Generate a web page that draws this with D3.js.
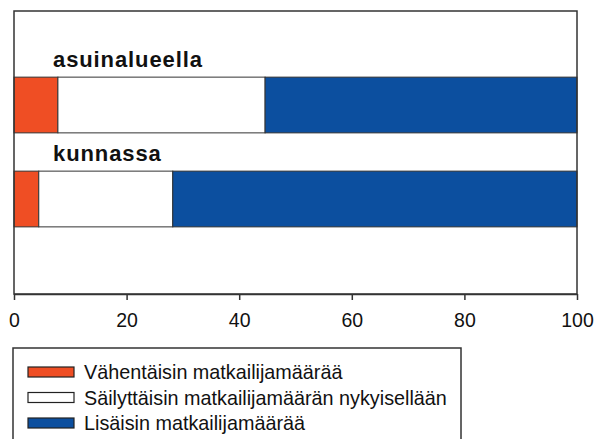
<!DOCTYPE html>
<html lang="fi">
<head>
<meta charset="UTF-8" />
<script src="https://d3js.org/d3.v7.min.js"></script>
<style>
  body { margin: 0; background: #fff; }
  svg { display: block; font-family: Arial, "Liberation Sans", sans-serif; }
</style>
</head>
<body>
<svg width="595" height="439"></svg>
<script>
  // data
  const categories = ["asuinalueella", "kunnassa"]
  const series = ["Vähentäisin matkailijamäärää", "Säilyttäisin matkailijamäärän nykyisellään", "Lisäisin matkailijamäärää"]
  const decrease = [7.8, 4.4]
  const keep = [36.8, 23.8]
  const increase = [55.4, 71.8]
  const tickValues = [0, 20, 40, 60, 80, 100]
  const colors = ["#ef4e24", "#ffffff", "#0c4f9f"]

  const svg = d3.select("svg")
  const plot = { left: 14, right: 577, top: 11, bottom: 294 }

  const x = d3.scaleLinear().domain([0, 100]).range([plot.left, plot.right])
  const y = d3.scaleBand().domain(categories).range([58, 246]).paddingInner(0.407).paddingOuter(0.2035)

  const rows = categories.map((c, i) => ({ cat: c, vals: [decrease[i], keep[i], increase[i]] }))
  const stacked = rows.map(r => {
    let acc = 0
    return r.vals.map((v, k) => { const s = { cat: r.cat, k, x0: acc, x1: acc + v }; acc += v; return s })
  })

  // bars
  svg.append("g").selectAll("g").data(stacked).join("g")
    .selectAll("rect").data(d => d).join("rect")
    .attr("x", d => x(d.x0))
    .attr("y", d => y(d.cat))
    .attr("width", d => x(d.x1) - x(d.x0))
    .attr("height", y.bandwidth())
    .attr("fill", d => colors[d.k])
    .attr("stroke", "#333")
    .attr("stroke-width", 1)

  // category labels
  svg.append("g").selectAll("text").data(categories).join("text")
    .attr("x", 53)
    .attr("y", d => y(d) - 10)
    .attr("font-size", 22)
    .attr("font-weight", "bold")
    .attr("letter-spacing", 0.9)
    .attr("fill", "#111")
    .text(d => d)

  // frame
  svg.append("rect")
    .attr("x", plot.left).attr("y", plot.top)
    .attr("width", plot.right - plot.left).attr("height", plot.bottom - plot.top)
    .attr("fill", "none").attr("stroke", "#333").attr("stroke-width", 1.5)

  // x axis
  const xAxis = svg.append("g")
    .attr("transform", `translate(0,${plot.bottom})`)
    .call(d3.axisBottom(x).tickValues(tickValues).tickSize(6).tickPadding(13).tickSizeOuter(0))
  xAxis.select(".domain").attr("stroke", "#333").attr("stroke-width", 1.5)
  xAxis.selectAll(".tick line").attr("stroke", "#333").attr("stroke-width", 1.5)
  xAxis.selectAll(".tick text").attr("font-size", 19.5).attr("fill", "#111")
    .attr("font-family", "Arial, 'Liberation Sans', sans-serif")

  // legend
  const legend = svg.append("g")
  legend.append("rect")
    .attr("x", 13).attr("y", 348).attr("width", 448).attr("height", 120)
    .attr("fill", "#fff").attr("stroke", "#333").attr("stroke-width", 1.5)
  const item = legend.selectAll("g.item").data(series).join("g")
    .attr("class", "item")
    .attr("transform", (d, i) => `translate(28,${367 + i * 25.5})`)
  item.append("rect")
    .attr("width", 46).attr("height", 10)
    .attr("fill", (d, i) => colors[i])
    .attr("stroke", "#222").attr("stroke-width", 1.2)
  item.append("text")
    .attr("x", 56).attr("y", 12)
    .attr("font-size", 19.8)
    .attr("fill", "#111")
    .text(d => d)
</script>
</body>
</html>
